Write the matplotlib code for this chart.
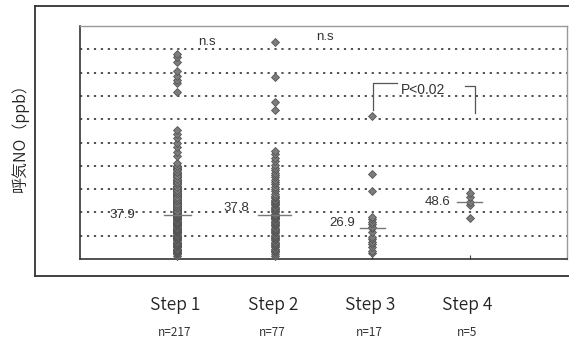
import matplotlib
matplotlib.use("Agg")
import matplotlib.pyplot as plt
from matplotlib.lines import Line2D
from matplotlib.transforms import blended_transform_factory
import numpy as np

plt.rcParams['font.family'] = ['Noto Sans CJK JP', 'DejaVu Sans']
plt.rcParams['lines.scale_dashes'] = False

# ---- data ----
categories = ["Step 1", "Step 2", "Step 3", "Step 4"]
n_labels = ["n=217", "n=77", "n=17", "n=5"]
medians = [37.9, 37.8, 26.9, 48.6]

step1 = [3, 4, 5, 5, 6, 7, 7, 8, 8, 9, 9, 10, 10, 11, 11, 12, 12, 13, 13, 14,
         14, 15, 15, 16, 16, 17, 17, 18, 18, 19, 19, 20, 20, 20, 21, 21, 22, 22, 22, 23,
         23, 23, 24, 24, 24, 25, 25, 25, 26, 26, 26, 27, 27, 27, 28, 28, 28, 29, 29, 29,
         30, 30, 30, 30, 31, 31, 31, 31, 32, 32, 32, 32, 33, 33, 33, 33, 34, 34, 34, 34,
         35, 35, 35, 35, 35, 36, 36, 36, 36, 36, 36.5, 36.5, 37, 37, 37, 37, 37, 37.2, 37.3, 37.4,
         37.5, 37.5, 37.6, 37.6, 37.7, 37.7, 37.8, 37.8,
         37.9,
         38, 38, 38.5, 39, 39, 39.5, 40, 40, 40.5, 41, 41, 42, 42, 43, 43, 44, 44, 45, 45, 46,
         46, 47, 47, 48, 48, 49, 49, 50, 50, 51, 51, 52, 52, 53, 53, 54, 54, 55, 55, 56,
         56, 57, 57, 58, 58, 59, 59, 60, 60, 61, 62, 62, 63, 63, 64, 65, 65, 66, 67, 67,
         68, 69, 70, 70, 71, 72, 73, 74, 75, 76, 77, 78, 79, 80,
         41.5, 43.5, 45.5, 47.5, 49.5, 51.5, 53.5, 55.5, 57.5, 59.5, 61.5, 64.5, 66.5, 68.5,
         71.5, 74.5, 77.5, 79.5,
         82, 88, 92, 96, 100, 104, 107, 111,
         143, 151, 154, 157, 161, 169, 173, 176]

step2 = [3, 4, 6, 7, 8, 9, 10, 11, 12, 13, 14, 15, 16, 17, 18, 19, 20, 21, 22, 23,
         24, 25, 26, 27, 28, 29, 30, 31, 32, 33, 34, 34.5, 35, 35.5, 36, 36.5, 37, 37.5,
         37.8,
         38, 39, 40, 41, 42, 43, 44, 45, 46, 47, 48, 49, 50, 51, 52, 53, 54,
         56, 58, 60, 62, 64, 66, 68, 70, 72, 74, 76, 78, 81, 84, 87, 90, 93,
         128, 135, 156, 186]

step3 = [4.9, 7, 10.6, 13, 14.8, 17, 19.1, 23.4, 26.9, 27.7, 30, 32, 34, 36.3,
         58.6, 72.9, 122.7]

step4 = [35, 46, 48.6, 53.5, 57]

series = [step1, step2, step3, step4]

# ---- figure ----
W, H = 569, 349
fig = plt.figure(figsize=(W / 100, H / 100), dpi=100)

def fx(px):
    return px / W

def fy(py):
    return 1 - py / H

# outer frame
frame_kw = dict(color="#333333", lw=1.3, transform=fig.transFigure)
fig.add_artist(Line2D([fx(35), fx(35)], [fy(6), fy(276)], **frame_kw))
fig.add_artist(Line2D([fx(35), 1.0], [fy(6), fy(6)], **frame_kw))
fig.add_artist(Line2D([fx(35), 1.0], [fy(276), fy(276)], **frame_kw))

ax = fig.add_axes([fx(80), fy(259), (567 - 80) / W, (259 - 26) / H])
ax.set_xlim(0, 5)
ax.set_ylim(0, 200)

# dotted grid
for g in range(20, 200, 20):
    ax.axhline(g, color="#222222", lw=1.1, linestyle=(0, (1.6, 3.4)), zorder=1)

positions = np.arange(1, len(categories) + 1)
for pos, vals in zip(positions, series):
    ax.plot([pos] * len(vals), vals, linestyle="none", marker="D", markersize=4.2,
            markerfacecolor="#7c7c7c", markeredgecolor="#555555", markeredgewidth=0.6,
            zorder=3, clip_on=False)

# median lines
half = [0.14, 0.17, 0.13, 0.13]
for pos, m, h in zip(positions, medians, half):
    ax.plot([pos - h, pos + h], [m, m], color="#777777", lw=1.0, zorder=4)

# median labels
label_pos = [(0.436, 37.8), (1.609, 43.8), (2.695, 30.9), (3.676, 49.2)]
for (lx, ly), m in zip(label_pos, medians):
    ax.text(lx, ly, f"{m}", ha="center", va="center", fontsize=9.5,
            family=["Liberation Sans", "DejaVu Sans"], color="#333333", zorder=5)

# n.s annotations
ax.text(1.304, 186.4, "n.s", ha="center", va="center", fontsize=9.5,
        family=["Liberation Sans", "DejaVu Sans"], color="#333333")
ax.text(2.515, 190.5, "n.s", ha="center", va="center", fontsize=9.5,
        family=["Liberation Sans", "DejaVu Sans"], color="#333333")

# bracket P<0.02
bk = dict(color="#555555", lw=0.9, zorder=5)
ax.plot([3.011, 3.011, 3.252], [127.8, 151.3, 151.3], **bk)
ax.plot([3.953, 4.055, 4.055], [148.4, 148.4, 125.3], **bk)
ax.text(3.521, 145, "P<0.02", ha="center", va="center", fontsize=10,
        family=["Liberation Sans", "DejaVu Sans"], color="#333333", zorder=5)

# axes styling
ax.set_yticks([])
ax.set_xticks(positions)
ax.set_xticklabels([])
ax.tick_params(axis="x", direction="in", length=3, width=0.8, color="#444444")
for side in ["left", "bottom"]:
    ax.spines[side].set_color("#333333")
    ax.spines[side].set_linewidth(1.2)
for side in ["top", "right"]:
    ax.spines[side].set_color("#999999")
    ax.spines[side].set_linewidth(1.0)

# category labels below
tr = blended_transform_factory(ax.transData, fig.transFigure)
for pos, c, nl in zip(positions, categories, n_labels):
    ax.text(pos - 0.02, fy(305), c, transform=tr, ha="center", va="center",
            fontsize=12.5, fontweight=350, color="#222222")
    ax.text(pos - 0.03, fy(333), nl, transform=tr, ha="center", va="center",
            fontsize=8.5, fontweight="normal", color="#333333")

fig.text(fx(20), fy(134), "呼気NO（ppb）", rotation=90, ha="center", va="center",
         fontsize=11.5, fontweight=350, color="#222222")

fig.savefig("out.png", dpi=100)
